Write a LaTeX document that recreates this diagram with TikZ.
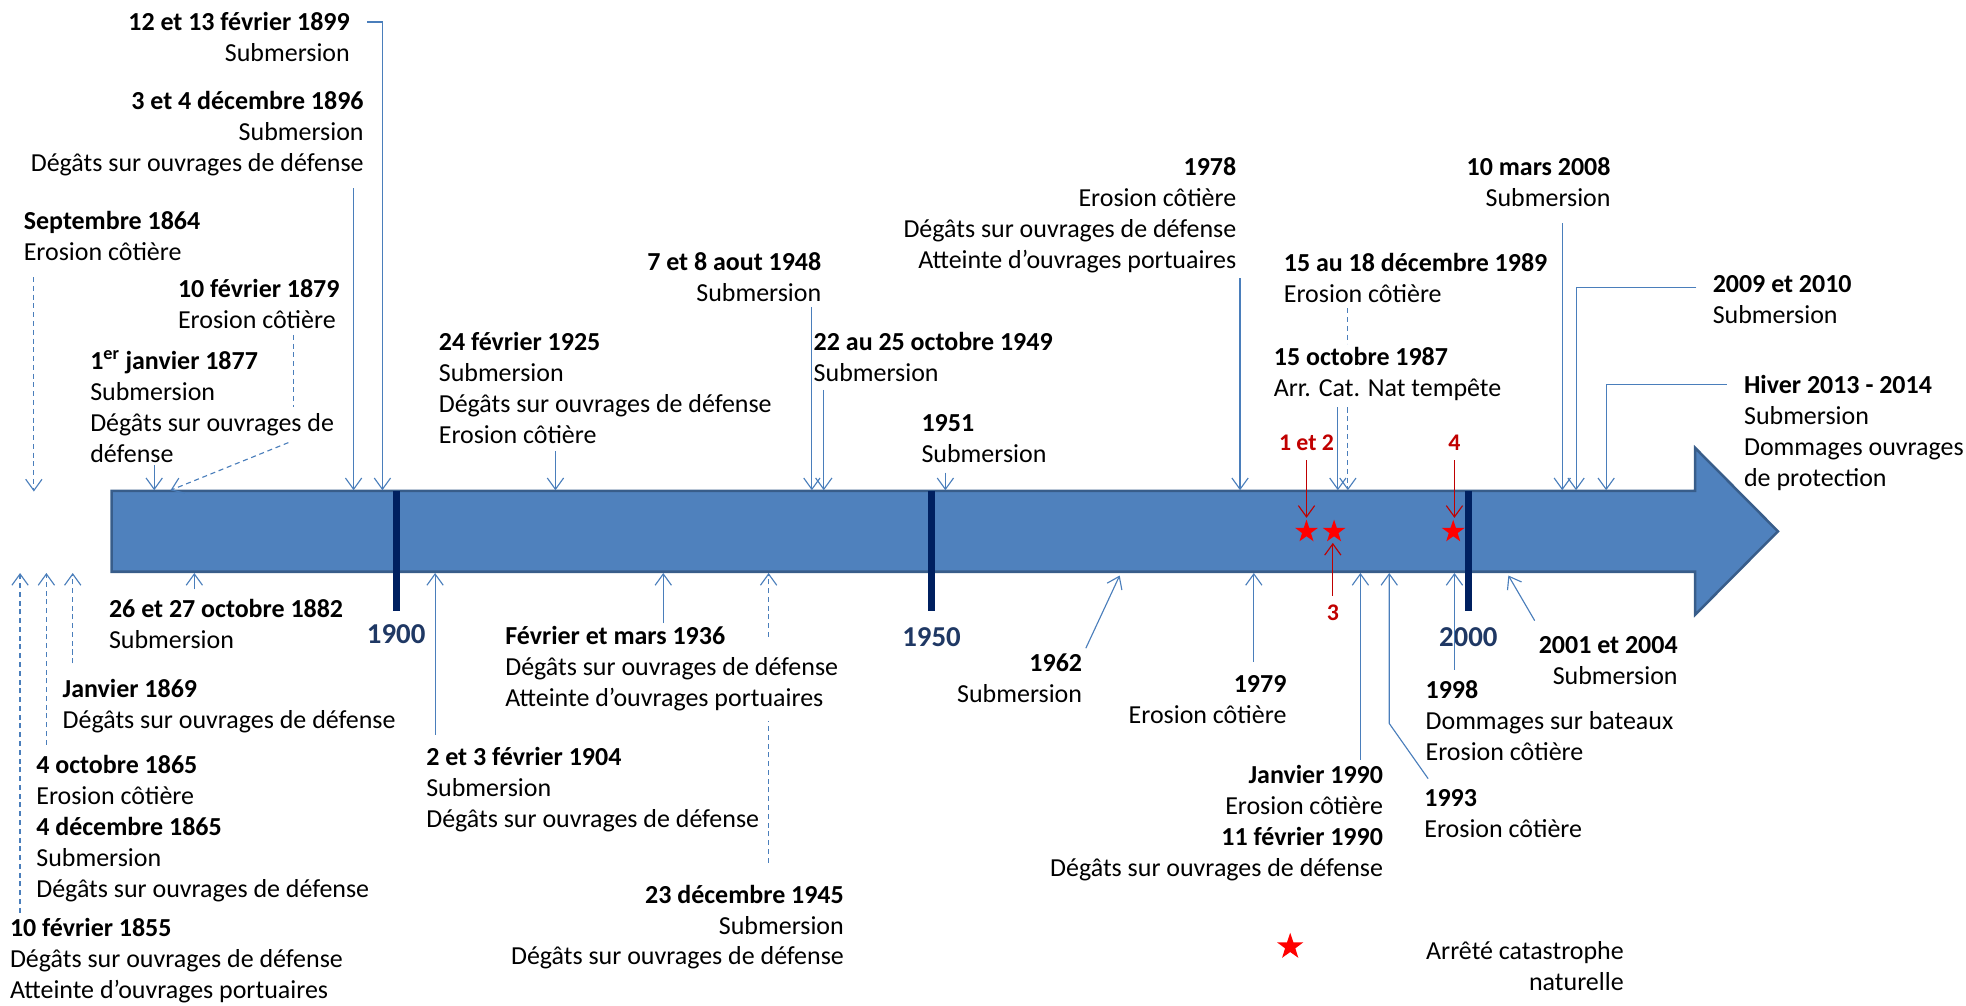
\documentclass[tikz,border=0pt]{standalone}
\usepackage{fontspec}
\setmainfont{Carlito}
\usetikzlibrary{arrows.meta,shapes.geometric}
\definecolor{barfill}{HTML}{4F81BD}
\definecolor{barline}{HTML}{385D8A}
\definecolor{conncol}{HTML}{4A7EBB}
\definecolor{tickcol}{HTML}{002060}
\definecolor{yearcol}{HTML}{1F3864}
\definecolor{darkred}{HTML}{C00000}
\newcommand{\lblfont}{\fontsize{20.7}{24.7}\selectfont}
\begin{document}
\begin{tikzpicture}[x=1pt,y=-1pt,
  lbl/.style={inner sep=0pt, outer sep=0pt, font=\lblfont, align=left, anchor=north west, yshift=-4pt, execute at begin node=\strut},
  lblr/.style={lbl, align=right, anchor=north east},
  conn/.style={draw=conncol, line width=0.9pt, -{Straight Barb[length=9pt,width=13pt]}},
  dconn/.style={conn, dash pattern=on 4pt off 3pt},
  dline/.style={draw=conncol, line width=0.9pt, dash pattern=on 4pt off 3pt},
  redarr/.style={draw=darkred, line width=0.9pt, -{Straight Barb[length=9pt,width=13pt]}},
  tickmark/.style={draw=tickcol, line width=5.5pt},
  yearlbl/.style={inner sep=0pt, font=\fontsize{23}{26}\selectfont\bfseries, text=yearcol},
  redlbl/.style={inner sep=0pt, font=\fontsize{19}{22}\selectfont\bfseries, text=darkred},
  rstar/.style={star, star points=5, star point ratio=2.55, fill=red, draw=none, inner sep=0pt, minimum size=19pt},
]
\useasboundingbox (0,0) rectangle (1568,802.3);

% timeline arrow
\path[fill=barfill, draw=barline, line width=2pt] (89,391.5) -- (1352,391.5) -- (1352,357.25) -- (1418,423.75) -- (1352,490.25) -- (1352,456) -- (89,456) -- cycle;

% century ticks
\coordinate (k1900a) at (316,391.5); \coordinate (k1900b) at (316,487);
\coordinate (k1950a) at (743,391.5); \coordinate (k1950b) at (743,487);
\coordinate (k2000a) at (1171,391.5); \coordinate (k2000b) at (1171,487);
\draw[tickmark] (k1900a) -- (k1900b);
\draw[tickmark] (k1950a) -- (k1950b);
\draw[tickmark] (k2000a) -- (k2000b);
\node[yearlbl] (y1900) at (316,506) {1900};
\node[yearlbl] (y1950) at (743,508) {1950};
\node[yearlbl] (y2000) at (1171,508) {2000};

% stars
\node[rstar] (st1) at (1042,424) {};
\node[rstar] (st2) at (1064,424) {};
\node[rstar] (st4) at (1159,424) {};
\node[redlbl] (r12) at (1042,353) {1 et 2};
\node[redlbl] (r4) at (1160,353) {4};
\node[redlbl] (r3) at (1063,489) {3};
\coordinate (r12a) at (1042,367); \coordinate (r12b) at (1042,413);
\coordinate (r4a) at (1160,367); \coordinate (r4b) at (1160,413);
\coordinate (r3a) at (1063,475); \coordinate (r3b) at (1063,433);
\draw[redarr] (r12a) -- (r12b);
\draw[redarr] (r4a) -- (r4b);
\draw[redarr] (r3a) -- (r3b);

% labels above
\node[lblr] (t1899) at (279,5.7) {\textbf{12 et 13 février 1899}\\Submersion};
\node[lblr] (t1896) at (290,68.7) {\textbf{3 et 4 décembre 1896}\\Submersion\\Dégâts sur ouvrages de défense};
\node[lbl] (t1864) at (19,164.7) {\textbf{Septembre 1864}\\Erosion côtière};
\node[lbl] (t1879) at (142,218.7) {\textbf{10 février 1879}\\Erosion côtière};
\node[lbl] (t1877) at (72,275.7) {\textbf{1\textsuperscript{er} janvier 1877}\\Submersion\\Dégâts sur ouvrages de\\défense};
\node[lbl] (t1925) at (350,260.7) {\textbf{24 février 1925}\\Submersion\\Dégâts sur ouvrages de défense\\Erosion côtière};
\node[lblr] (t1948) at (655,197.7) {\textbf{7 et 8 aout 1948}\\Submersion};
\node[lbl] (t1949) at (649,260.7) {\textbf{22 au 25 octobre 1949}\\Submersion};
\node[lbl] (t1951) at (735,326.2) {\textbf{1951}\\Submersion};
\node[lblr] (t1978) at (986,121.7) {\textbf{1978}\\Erosion côtière\\Dégâts sur ouvrages de défense\\Atteinte d’ouvrages portuaires};
\node[lbl] (t1989) at (1024,197.7) {\textbf{15 au 18 décembre 1989}\\Erosion côtière};
\node[lbl] (t1987) at (1016,273.3) {\textbf{15 octobre 1987}\\Arr. Cat. Nat tempête};
\node[lblr] (t2008) at (1284.5,121.7) {\textbf{10 mars 2008}\\Submersion};
\node[lbl] (t2009) at (1366,215.7) {\textbf{2009 et 2010}\\Submersion};
\node[lbl] (t2013) at (1391,295.7) {\textbf{Hiver 2013 - 2014}\\Submersion\\Dommages ouvrages\\de protection};

% labels below
\node[lbl] (t1882) at (87,473.7) {\textbf{26 et 27 octobre 1882}\\Submersion};
\node[lbl] (t1869) at (50,537.7) {\textbf{Janvier 1869}\\Dégâts sur ouvrages de défense};
\node[lbl] (t1865) at (29,598.7) {\textbf{4 octobre 1865}\\Erosion côtière\\\textbf{4 décembre 1865}\\Submersion\\Dégâts sur ouvrages de défense};
\node[lbl] (t1855) at (8,728.7) {\textbf{10 février 1855}\\Dégâts sur ouvrages de défense\\Atteinte d’ouvrages portuaires};
\node[lbl] (t1904) at (340,591.7) {\textbf{2 et 3 février 1904}\\Submersion\\Dégâts sur ouvrages de défense};
\node[lbl] (t1936) at (403,495.7) {\textbf{Février et mars 1936}\\Dégâts sur ouvrages de défense\\Atteinte d’ouvrages portuaires};
\node[lblr] (t1945) at (673,701.7) {\textbf{23 décembre 1945}\\Submersion\\Dégâts sur ouvrages de défense};
\node[lblr] (t1962) at (863,517.7) {\textbf{1962}\\Submersion};
\node[lblr] (t1979) at (1026,534.7) {\textbf{1979}\\Erosion côtière};
\node[lblr] (t1990) at (1103,606.7) {\textbf{Janvier 1990}\\Erosion côtière\\\textbf{11 février 1990}\\Dégâts sur ouvrages de défense};
\node[lbl] (t1993) at (1136,625.7) {\textbf{1993}\\Erosion côtière};
\node[lbl] (t1998) at (1137,538.7) {\textbf{1998}\\Dommages sur bateaux\\Erosion côtière};
\node[lblr] (t2001) at (1338,503.7) {\textbf{2001 et 2004}\\Submersion};

% legend
\node[rstar, minimum size=22pt] (legstar) at (1029,755) {};
\node[lblr] (legtxt) at (1295,746.7) {Arrêté catastrophe\\naturelle};

% connectors above the bar
\coordinate (s1899) at (293,17.5); \coordinate (e1899) at (305,391);
\draw[conn] (s1899) -| (e1899);
\coordinate (s1896) at (282,150); \coordinate (e1896) at (282,391);
\draw[conn] (s1896) -- (e1896);
\coordinate (s1864) at (27,221); \coordinate (e1864) at (27,392);
\draw[dconn] (s1864) -- (e1864);
\coordinate (s1879) at (234,267); \coordinate (m1879) at (234,325);
\coordinate (n1879) at (230,353); \coordinate (e1879) at (136,391);
\draw[dline] (s1879) -- (m1879);
\draw[dconn] (n1879) -- (e1879);
\coordinate (s1877) at (123,371); \coordinate (e1877) at (123,391);
\draw[conn] (s1877) -- (e1877);
\coordinate (s1925) at (443,360); \coordinate (e1925) at (443,391);
\draw[conn] (s1925) -- (e1925);
\coordinate (s1948) at (647.5,245); \coordinate (e1948) at (647.5,391);
\draw[conn] (s1948) -- (e1948);
\coordinate (s1949) at (657,311); \coordinate (e1949) at (657,391);
\draw[conn] (s1949) -- (e1949);
\coordinate (s1951) at (754,377); \coordinate (e1951) at (754,391);
\draw[conn] (s1951) -- (e1951);
\coordinate (s1978) at (989,222); \coordinate (e1978) at (989,391);
\draw[conn] (s1978) -- (e1978);
\coordinate (s1987) at (1067,325); \coordinate (e1987) at (1067,391);
\draw[conn] (s1987) -- (e1987);
\coordinate (s1989) at (1075,246); \coordinate (m1989) at (1075,274);
\coordinate (n1989) at (1075,325); \coordinate (e1989) at (1075,391);
\draw[dline] (s1989) -- (m1989);
\draw[dconn] (n1989) -- (e1989);
\coordinate (s2008) at (1246,178); \coordinate (e2008) at (1246,391);
\draw[conn] (s2008) -- (e2008);
\coordinate (s2009) at (1353,229); \coordinate (e2009) at (1257,391);
\draw[conn] (s2009) -| (e2009);
\coordinate (s2013) at (1377,307); \coordinate (e2013) at (1281,391);
\draw[conn] (s2013) -| (e2013);

% connectors below the bar
\coordinate (s1855) at (16,728); \coordinate (e1855) at (16,457);
\draw[dconn] (s1855) -- (e1855);
\coordinate (s1865) at (37,594); \coordinate (e1865) at (37,457);
\draw[dconn] (s1865) -- (e1865);
\coordinate (s1869) at (58,529); \coordinate (e1869) at (58,457);
\draw[dconn] (s1869) -- (e1869);
\coordinate (s1882) at (155,470); \coordinate (e1882) at (155,457);
\draw[conn] (s1882) -- (e1882);
\coordinate (s1904) at (347,586); \coordinate (e1904) at (347,457);
\draw[conn] (s1904) -- (e1904);
\coordinate (s1936) at (529,497); \coordinate (e1936) at (529,457);
\draw[conn] (s1936) -- (e1936);
\coordinate (s1945) at (613,688); \coordinate (m1945) at (613,575);
\coordinate (n1945) at (613,508); \coordinate (e1945) at (613,457);
\draw[dline] (s1945) -- (m1945);
\draw[dconn] (n1945) -- (e1945);
\coordinate (s1962) at (866,517); \coordinate (e1962) at (893,459);
\draw[conn] (s1962) -- (e1962);
\coordinate (s1979) at (1000,528); \coordinate (e1979) at (1000,457);
\draw[conn] (s1979) -- (e1979);
\coordinate (s1990) at (1085,606); \coordinate (e1990) at (1085,457);
\draw[conn] (s1990) -- (e1990);
\coordinate (s1993) at (1139,621); \coordinate (m1993) at (1108,577); \coordinate (e1993) at (1108,457);
\draw[conn] (s1993) -- (m1993) -- (e1993);
\coordinate (s1998) at (1160,534); \coordinate (e1998) at (1160,457);
\draw[conn] (s1998) -- (e1998);
\coordinate (s2001) at (1224,495); \coordinate (e2001) at (1203,459);
\draw[conn] (s2001) -- (e2001);
\end{tikzpicture}
\end{document}
